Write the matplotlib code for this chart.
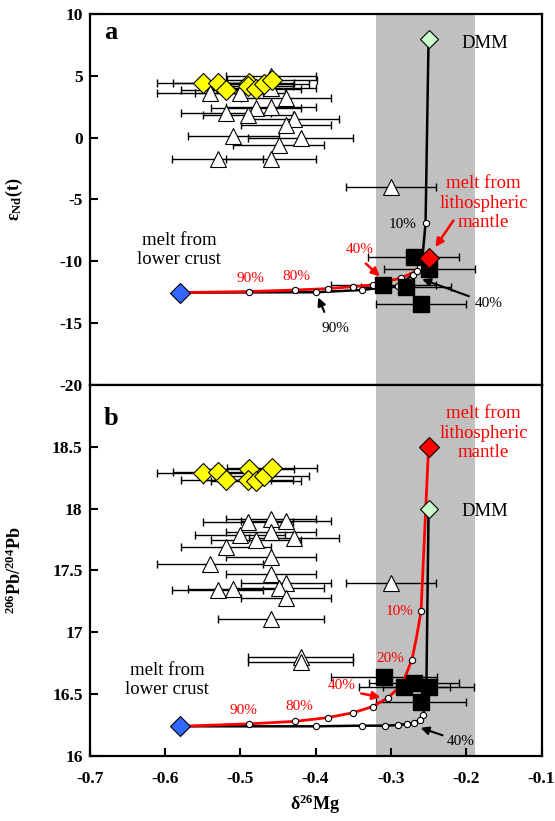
"""
d26Mg vs eNd(t) (a) and 206Pb/204Pb (b), two stacked panels with mixing curves
"""
import matplotlib
matplotlib.use('Agg')
import matplotlib.pyplot as plt
from matplotlib.ticker import MultipleLocator, FormatStrFormatter

plt.rcParams['font.family'] = ['Liberation Serif', 'DejaVu Serif']
plt.rcParams['mathtext.fontset'] = 'custom'
plt.rcParams['mathtext.rm'] = 'Liberation Serif'
plt.rcParams['mathtext.it'] = 'Liberation Serif:italic'
plt.rcParams['mathtext.bf'] = 'Liberation Serif:bold'
plt.rcParams['axes.unicode_minus'] = False

# ---------------- 数据 ----------------
# yellow diamonds (same samples in both panels)
dia_x = [-0.550, -0.529, -0.519, -0.489, -0.490, -0.479, -0.469, -0.458]
dia_err = [0.06, 0.06, 0.06, 0.06, 0.06, 0.06, 0.06, 0.06]
dia_a_y = [4.44, 4.44, 3.85, 4.44, 4.18, 3.91, 4.34, 4.66]
dia_b_y = [18.29, 18.30, 18.23, 18.32, 18.23, 18.22, 18.26, 18.33]

# open triangles, panel a
tri_a_x = [-0.459, -0.540, -0.500, -0.459, -0.439, -0.519, -0.479, -0.459, -0.490,
           -0.429, -0.439, -0.509, -0.420, -0.449, -0.530, -0.459, -0.300]
tri_a_y = [5.0, 3.6, 3.6, 4.0, 3.2, 2.0, 2.4, 2.5, 1.8,
           1.5, 1.0, 0.1, 0.0, -0.6, -1.75, -1.75, -4.0]
tri_a_err = [0.06, 0.07, 0.06, 0.06, 0.06, 0.06, 0.06, 0.06, 0.06,
             0.06, 0.06, 0.06, 0.07, 0.06, 0.06, 0.06, 0.06]

# open triangles, panel b
tri_b_x = [-0.490, -0.459, -0.439, -0.500, -0.459, -0.429, -0.479, -0.519, -0.459, -0.540,
           -0.459, -0.439, -0.449, -0.530, -0.509, -0.439, -0.459, -0.420, -0.420, -0.300]
tri_b_y = [17.89, 17.92, 17.90, 17.79, 17.81, 17.76, 17.75, 17.69, 17.61, 17.55,
           17.47, 17.40, 17.36, 17.34, 17.35, 17.28, 17.11, 16.80, 16.76, 17.40]
tri_b_err = [0.06, 0.06, 0.06, 0.06, 0.06, 0.06, 0.06, 0.06, 0.06, 0.07,
             0.06, 0.06, 0.06, 0.06, 0.06, 0.06, 0.07, 0.07, 0.07, 0.06]

# black squares
sq_a_x = [-0.270, -0.249, -0.310, -0.280, -0.260]
sq_a_y = [-9.67, -10.62, -11.91, -12.05, -13.45]
sq_a_err = [0.06, 0.06, 0.07, 0.06, 0.06]
sq_b_x = [-0.309, -0.282, -0.269, -0.250, -0.260]
sq_b_y = [16.64, 16.56, 16.59, 16.56, 16.44]
sq_b_err = [0.07, 0.06, 0.06, 0.06, 0.06]

# end members: DMM, melt from lithospheric mantle, melt from lower crust
dmm_a = (-0.25, 8.0)
lith_a = (-0.25, -9.7)
crust_a = (-0.58, -12.53)
dmm_b = (-0.25, 18.0)
lith_b = (-0.25, 18.5)
crust_b = (-0.58, 16.24)

# mixing curves, panel a
blk_a_x = [-0.25, -0.254, -0.258, -0.262, -0.271, -0.291, -0.339, -0.399, -0.58]
blk_a_y = [8.0, -6.9, -9.6, -10.5, -11.1, -11.99, -12.32, -12.5, -12.53]
blk_a_px = [-0.254, -0.262, -0.271, -0.291, -0.339, -0.399]
blk_a_py = [-6.9, -10.5, -11.1, -11.99, -12.32, -12.5]
red_a_x = [-0.25, -0.265, -0.287, -0.312, -0.324, -0.350, -0.384, -0.427, -0.489, -0.58]
red_a_y = [-9.7, -10.75, -11.37, -11.7, -11.91, -12.05, -12.21, -12.32, -12.45, -12.53]
red_a_px = [-0.265, -0.287, -0.312, -0.324, -0.350, -0.384, -0.427, -0.489]
red_a_py = [-10.75, -11.37, -11.7, -11.91, -12.05, -12.21, -12.32, -12.45]

# mixing curves, panel b
blk_b_x = [-0.25, -0.253, -0.257, -0.262, -0.269, -0.278, -0.290, -0.308, -0.339, -0.399, -0.58]
blk_b_y = [18.0, 16.5, 16.33, 16.29, 16.27, 16.26, 16.25, 16.245, 16.245, 16.24, 16.24]
blk_b_px = [-0.257, -0.262, -0.269, -0.278, -0.290, -0.308, -0.339, -0.399]
blk_b_py = [16.33, 16.29, 16.27, 16.26, 16.25, 16.245, 16.245, 16.24]
red_b_x = [-0.25, -0.260, -0.266, -0.272, -0.285, -0.304, -0.324, -0.350, -0.384, -0.427, -0.488, -0.58]
red_b_y = [18.5, 17.17, 16.96, 16.78, 16.58, 16.47, 16.40, 16.35, 16.31, 16.28, 16.26, 16.24]
red_b_px = [-0.260, -0.272, -0.304, -0.324, -0.350, -0.384, -0.427, -0.488]
red_b_py = [17.17, 16.78, 16.47, 16.40, 16.35, 16.31, 16.28, 16.26]


def draw_panel(ax, dia_y, tri_x, tri_y, tri_err, sq_x, sq_y, sq_err,
               blk, red, dmm, lith, crust):
    # 灰色区域
    ax.axvspan(-0.32, -0.188, color='#c0c0c0', lw=0, zorder=0)
    # error bars
    ax.errorbar(tri_x, tri_y, xerr=tri_err, fmt='none', ecolor='k', elinewidth=1,
                capsize=3, capthick=1, zorder=2)
    ax.errorbar(dia_x, dia_y, xerr=dia_err, fmt='none', ecolor='k', elinewidth=1,
                capsize=3, capthick=1, zorder=2)
    ax.errorbar(sq_x, sq_y, xerr=sq_err, fmt='none', ecolor='k', elinewidth=1,
                capsize=3, capthick=1, zorder=2)
    ax.plot(tri_x, tri_y, '^', ms=12, mfc='white', mec='k', mew=0.8, ls='none', zorder=3)
    ax.plot(dia_x, dia_y, 'D', ms=10, mfc='#ffff00', mec='k', mew=0.8, ls='none', zorder=3)
    # mixing curves
    ax.plot(blk[0], blk[1], color='k', lw=1.8, zorder=4)
    ax.plot(blk[2], blk[3], 'o', ms=4.5, mfc='white', mec='k', mew=0.8, ls='none', zorder=5)
    ax.plot(red[0], red[1], color='#ff0000', lw=2.0, zorder=4)
    ax.plot(red[2], red[3], 'o', ms=4.5, mfc='white', mec='k', mew=0.8, ls='none', zorder=5)
    ax.plot(sq_x, sq_y, 's', ms=11, mfc='k', mec='k', ls='none', zorder=6)
    # end members
    ax.plot(*dmm, 'D', ms=9, mfc='#ccffcc', mec='k', mew=0.8, zorder=7)
    ax.plot(*lith, 'D', ms=10, mfc='#ff0000', mec='k', mew=0.8, zorder=7)
    ax.plot(*crust, 'D', ms=10, mfc='#3366ff', mec='k', mew=0.8, zorder=7)

    ax.set_xlim(-0.7, -0.1)
    ax.xaxis.set_major_locator(MultipleLocator(0.1))
    ax.xaxis.set_major_formatter(FormatStrFormatter('%.1f'))
    ax.tick_params(which='both', direction='in', length=6, width=1.5, right=False, top=False)
    ax.tick_params(axis='x', pad=11)
    ax.tick_params(axis='y', pad=5)
    for lab in ax.get_xticklabels() + ax.get_yticklabels():
        lab.set_fontweight('bold')
        lab.set_fontsize(12.5)
    for sp in ax.spines.values():
        sp.set_linewidth(1.6)


fig = plt.figure(figsize=(5.55, 8.21), dpi=100)
ax1 = fig.add_axes([0.1614, 0.5311, 0.8144, 0.4519])
ax2 = fig.add_axes([0.1614, 0.0792, 0.8144, 0.4519])

draw_panel(ax1, dia_a_y, tri_a_x, tri_a_y, tri_a_err, sq_a_x, sq_a_y, sq_a_err,
           (blk_a_x, blk_a_y, blk_a_px, blk_a_py), (red_a_x, red_a_y, red_a_px, red_a_py),
           dmm_a, lith_a, crust_a)
draw_panel(ax2, dia_b_y, tri_b_x, tri_b_y, tri_b_err, sq_b_x, sq_b_y, sq_b_err,
           (blk_b_x, blk_b_y, blk_b_px, blk_b_py), (red_b_x, red_b_y, red_b_px, red_b_py),
           dmm_b, lith_b, crust_b)

# 纵轴
ax1.set_ylim(-20, 10)
ax1.yaxis.set_major_locator(MultipleLocator(5))
ax1.yaxis.set_major_formatter(FormatStrFormatter('%g'))
ax1.tick_params(axis='x', bottom=False, labelbottom=False)
ax2.set_ylim(16, 19)
ax2.set_yticks([16, 16.5, 17, 17.5, 18, 18.5])
ax2.set_yticklabels(['16', '16.5', '17', '17.5', '18', '18.5'], fontweight='bold', fontsize=12.5)

ax1.set_ylabel(r'$\mathbf{ε_{Nd}(t)}$', fontsize=13)
ax1.yaxis.set_label_coords(-0.143, 0.5)
ax2.set_ylabel(r'$\mathbf{^{206}Pb/^{204}Pb}$', fontsize=13)
ax2.yaxis.set_label_coords(-0.143, 0.5)
ax2.set_xlabel(r'$\mathbf{δ^{26}Mg}$', fontsize=13, labelpad=4)

# 标注, panel a
ax1.text(-0.672, 8.5, 'a', fontsize=19, fontweight='bold', va='center', ha='center')
ax1.text(-0.175, 7.6, 'DMM', fontsize=13.5, ha='center', va='center')
ax1.text(-0.177, -5.3, 'melt from\nlithospheric\nmantle', fontsize=13.5, color='#ff0000',
         ha='center', va='center', linespacing=1.2)
ax1.text(-0.581, -9.1, 'melt from\nlower crust', fontsize=13.5, ha='center', va='center',
         linespacing=1.2)
ax1.text(-0.285, -7.06, '10%', fontsize=11, ha='center', va='center')
ax1.text(-0.341, -9.08, '40%', fontsize=11, color='#ff0000', ha='center', va='center')
ax1.text(-0.487, -11.37, '90%', fontsize=11, color='#ff0000', ha='center', va='center')
ax1.text(-0.425, -11.19, '80%', fontsize=11, color='#ff0000', ha='center', va='center')
ax1.text(-0.374, -15.4, '90%', fontsize=11, ha='center', va='center')
ax1.text(-0.17, -13.4, '40%', fontsize=11, ha='center', va='center')
ax1.annotate('', xy=(-0.243, -9.03), xytext=(-0.215, -6.52),
             arrowprops=dict(arrowstyle='-|>', color='#ff0000', lw=1.8, mutation_scale=12), zorder=8)
ax1.annotate('', xy=(-0.312, -11.37), xytext=(-0.336, -10.03),
             arrowprops=dict(arrowstyle='-|>', color='#ff0000', lw=1.8, mutation_scale=12), zorder=8)
ax1.annotate('', xy=(-0.262, -11.37), xytext=(-0.193, -12.9),
             arrowprops=dict(arrowstyle='-|>', color='k', lw=1.5, mutation_scale=12), zorder=8)
ax1.annotate('', xy=(-0.398, -12.72), xytext=(-0.387, -14.3),
             arrowprops=dict(arrowstyle='-|>', color='k', lw=1.5, mutation_scale=12), zorder=8)

# 标注, panel b
ax2.text(-0.672, 18.73, 'b', fontsize=19, fontweight='bold', va='center', ha='center')
ax2.text(-0.175, 17.98, 'DMM', fontsize=13.5, ha='center', va='center')
ax2.text(-0.177, 18.61, 'melt from\nlithospheric\nmantle', fontsize=13.5, color='#ff0000',
         ha='center', va='center', linespacing=1.2)
ax2.text(-0.597, 16.615, 'melt from\nlower crust', fontsize=13.5, ha='center', va='center',
         linespacing=1.2)
ax2.text(-0.288, 17.17, '10%', fontsize=11, color='#ff0000', ha='center', va='center')
ax2.text(-0.301, 16.79, '20%', fontsize=11, color='#ff0000', ha='center', va='center')
ax2.text(-0.365, 16.57, '40%', fontsize=11, color='#ff0000', ha='center', va='center')
ax2.text(-0.422, 16.40, '80%', fontsize=11, color='#ff0000', ha='center', va='center')
ax2.text(-0.496, 16.37, '90%', fontsize=11, color='#ff0000', ha='center', va='center')
ax2.text(-0.207, 16.12, '40%', fontsize=11, ha='center', va='center')
ax2.annotate('', xy=(-0.310, 16.47), xytext=(-0.343, 16.51),
             arrowprops=dict(arrowstyle='-|>', color='#ff0000', lw=1.8, mutation_scale=12), zorder=8)
ax2.annotate('', xy=(-0.264, 16.235), xytext=(-0.228, 16.16),
             arrowprops=dict(arrowstyle='-|>', color='k', lw=1.5, mutation_scale=12), zorder=8)

fig.savefig('out.png', dpi=100)
